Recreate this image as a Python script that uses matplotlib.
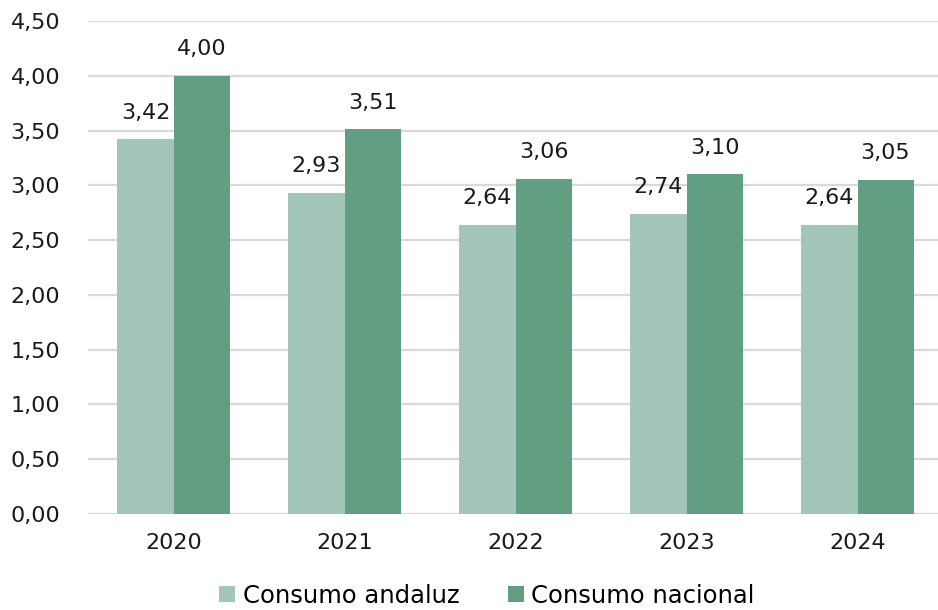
import numpy as np
import matplotlib
matplotlib.use("Agg")
import matplotlib.pyplot as plt

years = ["2020", "2021", "2022", "2023", "2024"]
andaluz = [3.42, 2.93, 2.64, 2.74, 2.64]
nacional = [4.00, 3.51, 3.06, 3.10, 3.05]
series_names = ["Consumo andaluz", "Consumo nacional"]

LIGHT = "#A3C6B8"
DARK = "#619E82"
GRID = "#D9D9D9"

plt.rcParams['font.family'] = ['DejaVu Sans']

W, H = 938, 610
fig = plt.figure(figsize=(W / 100, H / 100), dpi=100)
# axes box in pixels: left 88, right 943 (clipped), top 21, bottom 514
ax = fig.add_axes([88 / W, (H - 514) / H, 855 / W, (514 - 21) / H])

x = np.arange(len(years))
bw = 0.328
b1 = ax.bar(x - bw / 2, andaluz, bw, color=LIGHT, label=series_names[0], zorder=3)
b2 = ax.bar(x + bw / 2, nacional, bw, color=DARK, label=series_names[1], zorder=3)

for bars, vals in ((b1, andaluz), (b2, nacional)):
    for rect, v in zip(bars, vals):
        ax.annotate(f"{v:.2f}".replace(".", ","),
                    (rect.get_x() + rect.get_width() / 2, v),
                    xytext=(0, 12), textcoords="offset points",
                    ha="center", va="bottom", fontsize=16, color="#1a1a1a")

ax.set_xlim(-0.5, len(years) - 0.5)
ax.set_ylim(0, 4.5)
yt = np.arange(0, 4.51, 0.5)
ax.set_yticks(yt)
ax.set_yticklabels([f"{t:.2f}".replace(".", ",") for t in yt])
ax.set_xticks(x)
ax.set_xticklabels(years)
ax.tick_params(axis="both", length=0, labelsize=16, colors="#1a1a1a")
ax.tick_params(axis="y", pad=20)
ax.tick_params(axis="x", pad=14)
ax.yaxis.grid(True, color=GRID, linewidth=1.6, zorder=0)
ax.set_axisbelow(True)
for s in ax.spines.values():
    s.set_visible(False)

fig.legend(loc="lower center", bbox_to_anchor=(0.519, -0.032), ncol=2, frameon=False,
           fontsize=17.5, handlelength=0.65, handleheight=0.65, handletextpad=0.3,
           columnspacing=2.0)

fig.savefig("out.png", dpi=100)
